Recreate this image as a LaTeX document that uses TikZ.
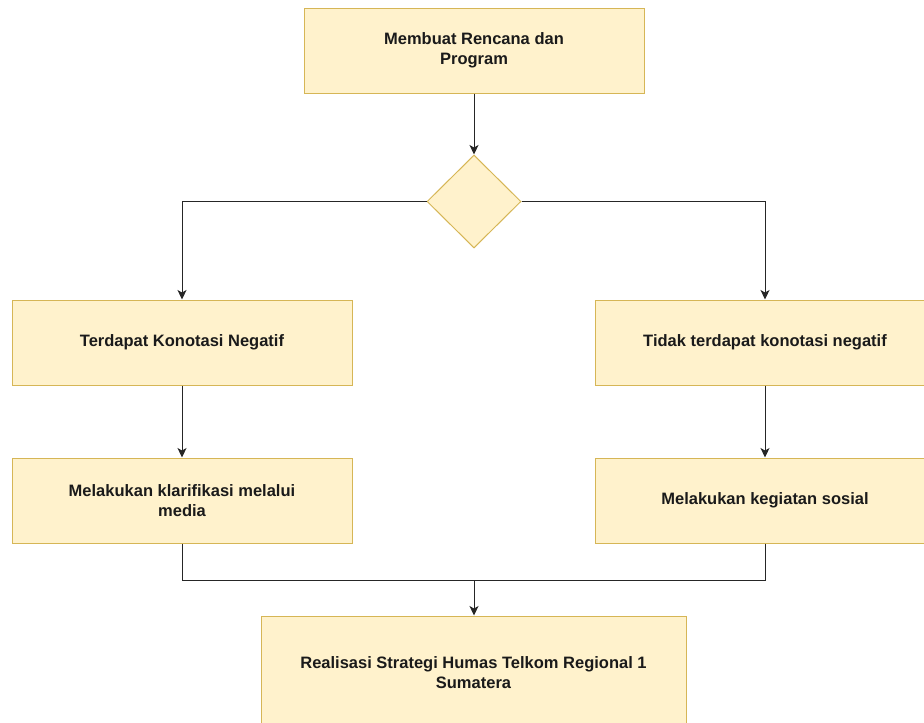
\documentclass[tikz,border=0pt]{standalone}
\usepackage{fontspec}
\setmainfont{Liberation Sans}
\usetikzlibrary{shapes.geometric,arrows.meta}
\definecolor{boxfill}{HTML}{FFF2CC}
\definecolor{boxline}{HTML}{D6B656}
\definecolor{txt}{HTML}{1A1A1A}
\begin{document}
\begin{tikzpicture}[x=1pt,y=-1pt,
  box/.style={rectangle,draw=boxline,fill=boxfill,line width=1pt,inner sep=0pt,
    minimum width=340pt,minimum height=85pt,align=center,text=txt,
    font=\fontsize{16.5}{20.5}\selectfont\bfseries},
  dec/.style={diamond,draw=boxline,fill=boxfill,line width=1pt,inner sep=0pt,
    minimum width=94pt,minimum height=93pt},
  conn/.style={draw=black!85,line width=1pt},
  arr/.style={conn,-{Stealth[length=9.5pt,width=9pt,inset=2.5pt]}}]
\useasboundingbox (0,0) rectangle (924,723);
\clip (0,0) rectangle (924,723);
\node[box] (top) at (474,50.5) {Membuat Rencana dan\\Program};
\node[dec] (dia) at (474,201.5) {};
\node[box] (l1) at (182,342.5) {Terdapat Konotasi Negatif};
\node[box] (r1) at (765,342.5) {Tidak terdapat konotasi negatif};
\node[box] (l2) at (182,500.5) {Melakukan klarifikasi melalui\\media};
\node[box] (r2) at (765,500.5) {Melakukan kegiatan sosial};
\node[box,minimum width=425pt,minimum height=113pt] (bot) at (473.5,672.5) {Realisasi Strategi Humas Telkom Regional 1\\Sumatera};
\coordinate (j) at (474,580);
\draw[arr] (top) -- (dia);
\draw[arr] (dia.west) -| (l1.north);
\draw[arr] (dia.east) -| (r1.north);
\draw[arr] (l1) -- (l2);
\draw[arr] (r1) -- (r2);
\draw[conn] (l2.south) |- (j);
\draw[conn] (r2.south) |- (j);
\draw[arr] (j) -- (j |- bot.north);
\end{tikzpicture}
\end{document}
